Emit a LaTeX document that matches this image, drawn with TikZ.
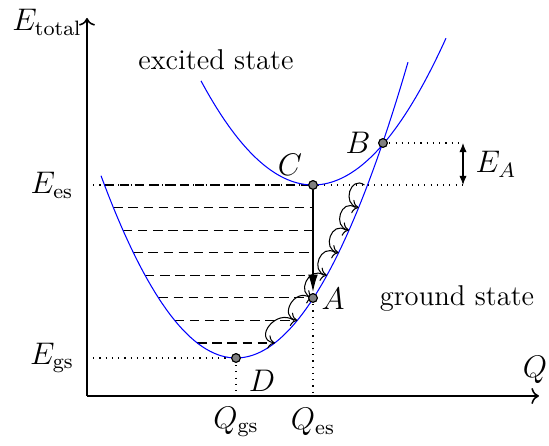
\documentclass[tikz,border=0pt]{standalone}
\usepackage{amsmath}
\usetikzlibrary{arrows.meta}
\tikzset{
  axis/.style     ={->,semithick},
  pes/.style      ={blue,thin},
  level/.style    ={dash pattern=on 3.6pt off 2.2pt},
  guide/.style    ={dotted},
  hop/.style      ={->,thin},
  relax/.style    ={-{Latex[length=2.5mm,width=1.3mm]},line width=1pt},
  statept/.style  ={circle,draw,fill=gray,inner sep=0pt,minimum size=3.3pt},
  mlbl/.style     ={font=\fontsize{12}{14}\selectfont},
}
\begin{document}
\begin{tikzpicture}[x=1.35mm,y=1.35mm,font=\fontsize{11}{13}\selectfont]
\useasboundingbox (-8.7,-5) rectangle (46.2,39.6);
% ---- vibrational levels of the ground state ----
\foreach \i in {0,...,7}{
  \pgfmathsetmacro{\ylev}{5.3+2.257*\i}
  \pgfmathsetmacro{\dx}{sqrt(10*(\ylev-3.8))}
  \pgfmathsetmacro{\xm}{min(14.9+\dx,22.6)}
  \coordinate (l\i) at ({14.9-\dx},\ylev);
  \coordinate (m\i) at (\xm,\ylev);
  \coordinate (r\i) at ({14.9+\dx},\ylev);
}
\foreach \i in {0,...,7} \draw[level] (l\i) -- (m\i);
% ---- points ----
\node[statept] (D) at (14.9,3.8) {};
\node[statept] (A) at (22.6,9.8) {};
\node[statept] (C) at (22.6,21.1) {};
\node[statept] (B) at (29.6,25.3) {};
% ---- guide lines ----
\coordinate (Egs) at (0,3.8);
\coordinate (Ees) at (0,21.1);
\coordinate (Qgs) at (14.9,0);
\coordinate (Qes) at (22.6,0);
\coordinate (EAt) at (37.6,25.3);
\coordinate (EAb) at (37.6,21.1);
\draw[guide] (Egs) -- (D.center) -- (Qgs);
\draw[guide] (A.center) -- (Qes);
\draw[guide] (Ees) -- (EAb);
\draw[guide] (B.center) -- (EAt);
% ---- potential curves ----
\draw[pes] plot[domain=1.4:32.1,samples=80] (\x,{3.8+0.1*(\x-14.9)^2});
\draw[pes] plot[domain=11.4:35.9,samples=80] (\x,{21.1+0.083*(\x-22.6)^2});
% ---- axes ----
\coordinate (O) at (0,0);
\coordinate (ytop) at (0,37.8);
\coordinate (xend) at (45.2,0);
\draw[axis] (O) -- (ytop);
\draw[axis] (O) -- (xend);
% ---- transitions ----
\foreach \i [evaluate=\i as \j using int(\i-1)] in {1,...,7}
  \draw[hop] ([xshift=-1.2pt]r\i) to[out=145,in=170,looseness=1.9] (r\j);
\draw[relax] (C.center) -- (A.north);
\draw[{Latex[length=3.5pt,width=2.8pt]}-{Latex[length=3.5pt,width=2.8pt]}] (EAt) -- (EAb);
% ---- points on top ----
\foreach \p in {D,A,C,B} \node[statept] at (\p) {};
% ---- labels ----
\node[mlbl] (Etot) at (-4.0,37.4) {$E_{\mathrm{total}}$};
\node[mlbl] (Eeslbl) at (-3.5,21.1) {$E_{\mathrm{es}}$};
\node[mlbl] (Egslbl) at (-3.5,3.8) {$E_{\mathrm{gs}}$};
\node[mlbl] (Qgslbl) at (14.9,-2.6) {$Q_{\mathrm{gs}}$};
\node[mlbl] (Qeslbl) at (22.6,-2.6) {$Q_{\mathrm{es}}$};
\node[mlbl] (Qlbl) at (44.8,2.6) {$Q$};
\node[mlbl] (Clbl) at (20.3,23.1) {$C$};
\node[mlbl] (Albl) at (24.6,9.7) {$A$};
\node[mlbl] (Blbl) at (27.1,25.3) {$B$};
\node[mlbl] (Dlbl) at (17.5,1.5) {$D$};
\node[mlbl] (EAlbl) at (40.9,23.2) {$E_A$};
\node (exc) at (12.9,33.6) {excited state};
\node (gnd) at (37.0,9.7) {ground state};
\end{tikzpicture}
\end{document}
